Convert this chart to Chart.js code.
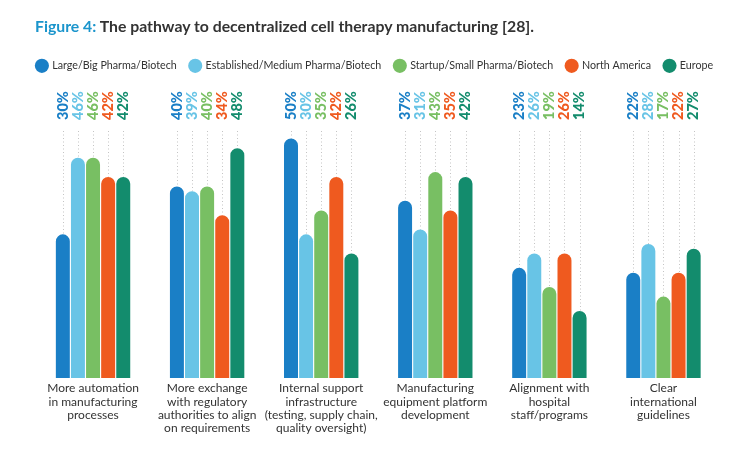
<!DOCTYPE html>
<html>
<head>
<meta charset="utf-8">
<script src="https://cdn.jsdelivr.net/npm/chart.js@4"></script>
<style>
  body { margin: 0; background: #fff; }
  #wrap { position: relative; width: 750px; height: 450px; }
  #title {
    position: absolute; left: 35px; top: 16px;
    font-family: 'Lato', sans-serif; font-weight: 700; font-size: 15.8px;
    color: #333; white-space: nowrap;
  }
  #title span { color: #1b95cc; }
</style>
</head>
<body>
<div id="wrap">
  <div id="title"><span>Figure 4:</span> The pathway to decentralized cell therapy manufacturing [28].</div>
  <canvas id="chart" width="750" height="450"></canvas>
</div>
<script>
// Categories (multi-line labels)
const categories = [
    ['More automation', 'in manufacturing', 'processes'],
    ['More exchange', 'with regulatory', 'authorities to align', 'on requirements'],
    ['Internal support', 'infrastructure', '(testing, supply chain,', 'quality oversight)'],
    ['Manufacturing', 'equipment platform', 'development'],
    ['Alignment with', 'hospital', 'staff/programs'],
    ['Clear', 'international', 'guidelines']
];

const seriesNames = ['Large/Big Pharma/Biotech', 'Established/Medium Pharma/Biotech',
    'Startup/Small Pharma/Biotech', 'North America', 'Europe'];

// Percent values per series
const largePharma = [30, 40, 50, 37, 23, 22];
const mediumPharma = [46, 39, 30, 31, 26, 28];
const smallPharma = [46, 40, 35, 43, 19, 17];
const northAmerica = [42, 34, 42, 35, 26, 22];
const europe = [42, 48, 26, 42, 14, 27];

const colors = ['#1a7fc6', '#68c4e6', '#78bf63', '#ef5a1f', '#138c6d'];
const seriesValues = [largePharma, mediumPharma, smallPharma, northAmerica, europe];

// Make room between legend and plot for the value labels
const legendSpacer = {
    id: 'legendSpacer',
    beforeInit(chart) {
        const fit = chart.legend.fit;
        chart.legend.fit = function() {
            fit.bind(chart.legend)();
            this.height = 82;
        };
    }
};

// Dotted guide lines above each bar
const dottedGuides = {
    id: 'dottedGuides',
    beforeDatasetsDraw(chart) {
        const ctx = chart.ctx;
        const top = chart.chartArea.top + 2;
        ctx.save();
        ctx.strokeStyle = '#c4c4c4';
        ctx.lineWidth = 1;
        ctx.setLineDash([1, 2.5]);
        chart.data.datasets.forEach((ds, i) => {
            chart.getDatasetMeta(i).data.forEach(bar => {
                const x = Math.round(bar.x) + 0.5;
                ctx.beginPath();
                ctx.moveTo(x, top);
                ctx.lineTo(x, bar.y);
                ctx.stroke();
            });
        });
        ctx.restore();
    }
};

// Rotated percentage labels in a row above the plot
const valueLabels = {
    id: 'valueLabels',
    afterDatasetsDraw(chart) {
        const ctx = chart.ctx;
        const y = chart.chartArea.top - 9;
        ctx.save();
        ctx.font = "900 14.5px 'Lato', sans-serif";
        ctx.textAlign = 'left';
        ctx.textBaseline = 'middle';
        chart.data.datasets.forEach((ds, i) => {
            ctx.fillStyle = ds.backgroundColor;
            chart.getDatasetMeta(i).data.forEach((bar, j) => {
                ctx.save();
                ctx.translate(bar.x, y);
                ctx.rotate(-Math.PI / 2);
                ctx.fillText(ds.data[j] + '%', 0, 0);
                ctx.restore();
            });
        });
        ctx.restore();
    }
};

const chartData = {
    labels: categories,
    datasets: seriesNames.map((name, i) => ({
        label: name,
        data: seriesValues[i],
        backgroundColor: colors[i],
        borderRadius: 7,
        borderSkipped: 'bottom',
        categoryPercentage: 0.662,
        barPercentage: 0.925
    }))
};

new Chart(document.getElementById('chart'), {
    type: 'bar',
    data: chartData,
    options: {
        responsive: false,
        animation: false,
        layout: {
            padding: { top: 47, left: 15, right: 15, bottom: 0 }
        },
        scales: {
            x: {
                grid: { display: false },
                border: { display: false },
                ticks: {
                    color: '#333',
                    padding: -4,
                    maxRotation: 0,
                    autoSkip: false,
                    font: { family: "'Lato', sans-serif", size: 12, lineHeight: 1.1 }
                },
                afterFit(scale) {
                    scale.height = 72;
                }
            },
            y: {
                display: false,
                min: 0,
                max: 52,
                afterFit(scale) {
                    scale.width = 21;
                }
            },
            yRight: {
                position: 'right',
                display: false,
                afterFit(scale) {
                    scale.width = 14.5;
                }
            }
        },
        plugins: {
            legend: {
                labels: {
                    usePointStyle: true,
                    pointStyle: 'circle',
                    boxWidth: 10,
                    boxHeight: 10,
                    padding: 13.5,
                    color: '#333',
                    font: { family: "'Lato', sans-serif", size: 10.7 }
                }
            },
            tooltip: { enabled: false }
        }
    },
    plugins: [legendSpacer, dottedGuides, valueLabels]
});
</script>
</body>
</html>
